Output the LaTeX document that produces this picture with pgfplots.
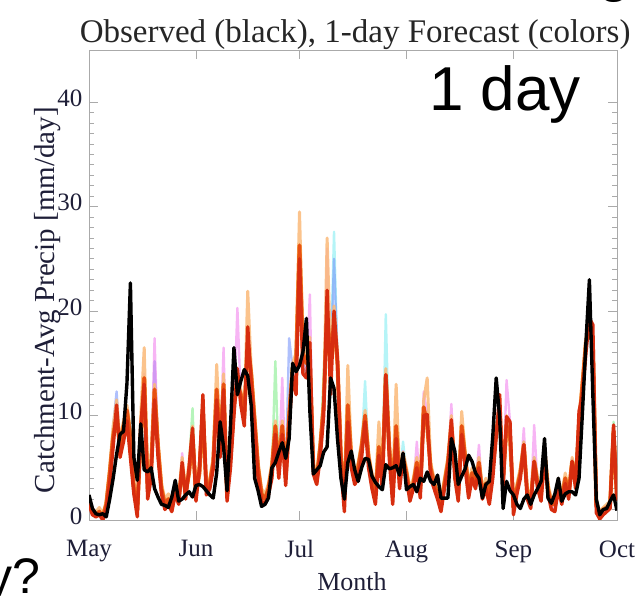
\documentclass[border=0pt]{standalone}
\usepackage{fontspec}
\setmainfont{Liberation Serif}
\newfontfamily\arial{Liberation Sans}
\usepackage{pgfplots}
\usepackage{pgfplotstable}
\pgfplotsset{compat=1.18}
\definecolor{cRed}{RGB}{215,45,15}
\definecolor{cOrR}{RGB}{232,80,20}
\definecolor{cOr}{RGB}{240,140,40}
\definecolor{cLOr}{RGB}{250,185,120}
\definecolor{cPink}{RGB}{240,120,235}
\definecolor{cBlue}{RGB}{110,140,250}
\definecolor{cGreen}{RGB}{120,235,130}
\definecolor{cCyan}{RGB}{120,235,240}
\definecolor{axgray}{RGB}{170,170,170}
\definecolor{txt}{RGB}{30,30,55}

\pgfplotstableread{
d obs r o l p b g c
0 2.4 1.5 1.8 2.0 1.6 1.9 1.4 1.7
1 1.1 0.5 0.8 1.0 0.6 0.9 0.5 0.7
2 0.6 0.3 0.5 0.8 0.4 0.6 0.3 0.5
3 0.5 0.5 0.8 1.2 0.6 0.9 0.5 0.7
4 0.6 0.0 0.3 0.6 0.2 0.4 0.1 0.3
5 0.3 1.0 1.5 1.8 1.2 1.6 1.0 1.4
6 2.0 3.5 4.5 5.0 4.0 4.8 3.8 4.2
7 4.0 7.0 8.0 9.0 7.5 9.0 7.2 8.0
8 6.3 11.0 10.0 11.5 11.0 12.3 10.5 10.8
9 8.2 6.0 7.0 7.5 6.5 7.0 6.2 6.8
10 8.5 7.5 9.0 9.5 8.0 8.5 7.8 8.6
11 13.1 9.5 10.5 11.0 10.0 10.5 9.8 10.2
12 22.7 6.0 8.0 8.5 7.0 7.5 6.5 7.8
13 6.0 2.5 3.0 3.5 2.8 3.0 2.5 3.0
14 3.8 0.3 1.0 1.5 0.8 1.0 0.5 1.0
15 9.2 9.0 8.0 10.0 9.5 9.0 8.5 8.8
16 4.8 13.0 13.6 16.5 14.0 13.0 12.5 13.0
17 4.6 2.0 3.0 3.5 2.5 2.8 2.2 3.0
18 5.0 4.0 5.0 5.5 4.5 5.0 4.2 4.8
19 3.0 11.5 12.5 13.0 17.4 15.2 12.0 12.5
20 2.2 6.0 7.0 7.5 6.5 7.0 6.2 6.8
21 1.5 2.5 3.0 3.5 2.8 3.0 2.6 3.0
22 1.4 1.0 1.5 2.0 1.2 1.5 1.0 1.4
23 1.2 1.5 2.0 2.5 1.8 2.0 1.6 2.0
24 2.2 0.8 1.5 2.0 1.2 1.4 1.0 1.5
25 3.8 2.5 3.0 3.5 2.8 3.0 2.6 3.0
26 1.8 1.5 2.0 2.5 1.8 2.0 1.6 2.0
27 2.0 5.5 5.0 6.0 6.4 5.5 5.8 5.4
28 2.4 2.0 2.5 3.0 2.2 2.5 2.0 2.4
29 2.7 5.0 4.5 5.5 5.0 4.8 5.2 4.8
30 2.2 8.8 8.0 9.0 8.5 8.5 10.7 8.6
31 3.3 1.8 2.5 3.0 2.0 2.4 2.0 2.4
32 3.4 5.0 4.5 5.5 5.0 4.8 5.0 4.8
33 3.2 12.0 10.5 11.5 11.0 10.8 11.5 10.8
34 2.8 2.4 3.0 3.5 2.6 3.0 2.6 3.0
35 2.4 3.0 3.5 4.0 3.2 3.4 3.0 3.4
36 2.1 4.9 5.5 6.0 5.2 5.4 5.0 5.4
37 4.5 11.5 12.5 14.9 12.0 12.0 11.8 12.2
38 9.4 6.0 7.0 7.5 6.5 7.0 6.2 7.0
39 7.0 12.5 13.0 14.0 16.5 13.0 13.0 13.2
40 2.8 1.8 2.5 3.0 2.0 2.5 2.0 2.5
41 9.0 5.0 6.0 6.5 5.5 6.0 5.2 6.0
42 16.5 10.0 11.0 11.5 10.5 11.0 10.2 11.0
43 12.0 14.5 13.0 14.0 20.3 14.0 14.5 13.5
44 13.3 11.0 12.0 12.5 11.5 12.0 11.2 12.0
45 14.4 9.0 10.0 10.5 9.5 10.0 9.2 10.0
46 13.8 18.5 17.0 21.9 18.0 18.0 18.2 17.5
47 11.0 13.0 14.0 14.5 13.5 14.0 13.2 14.0
48 4.0 8.8 9.5 10.0 9.0 9.5 9.0 9.5
49 2.8 4.0 5.0 5.5 4.5 5.0 4.2 5.0
50 1.3 1.8 2.5 3.0 2.0 2.5 2.0 2.5
51 1.5 1.5 2.0 2.5 1.8 2.0 1.6 2.0
52 2.1 2.4 3.0 3.5 2.6 3.0 2.6 3.0
53 5.0 4.0 5.0 5.5 4.5 5.0 4.5 5.0
54 5.5 8.2 9.0 9.5 8.5 9.0 15.2 9.0
55 6.5 4.0 5.0 5.5 4.5 5.0 4.5 5.0
56 7.4 8.2 9.0 9.5 13.6 9.0 8.8 9.0
57 5.9 3.3 4.0 4.5 3.6 4.0 3.5 4.0
58 7.8 9.0 10.0 10.5 9.5 17.4 9.5 10.0
59 15.0 13.9 14.5 15.0 14.2 14.5 14.0 14.5
60 14.2 12.0 15.0 16.0 13.0 14.0 12.5 14.5
61 14.8 25.0 26.3 29.5 25.5 26.0 25.5 26.0
62 16.1 14.0 16.0 17.0 15.0 15.5 14.5 15.5
63 19.3 13.6 15.0 16.0 14.0 15.0 14.0 14.5
64 10.4 17.0 15.0 17.5 21.6 16.0 17.0 16.0
65 4.4 4.4 5.0 5.5 4.6 5.0 4.5 5.0
66 4.8 3.4 4.0 4.5 3.6 4.0 3.5 4.0
67 5.2 6.0 7.0 7.5 6.5 7.0 6.2 7.0
68 6.5 10.0 11.0 11.5 10.5 11.0 14.0 11.0
69 7.0 22.0 20.0 27.0 26.0 21.0 21.0 20.5
70 13.6 12.0 15.0 16.0 13.0 14.0 12.5 14.5
71 12.6 20.0 19.0 20.5 20.0 25.0 20.0 27.6
72 7.8 15.5 15.0 16.0 15.0 15.5 15.2 15.5
73 4.0 5.0 6.0 6.5 5.5 6.0 5.2 6.0
74 2.0 0.8 2.0 2.5 1.2 1.8 1.0 1.8
75 5.5 9.4 11.0 14.8 10.0 10.5 9.8 10.5
76 6.6 5.0 6.0 6.5 5.5 6.0 5.2 6.0
77 4.8 3.4 4.0 4.5 3.6 4.0 3.5 4.0
78 3.7 4.0 5.0 5.5 4.5 5.0 4.2 5.0
79 5.0 6.0 7.0 7.5 6.5 7.0 6.2 7.0
80 5.9 9.4 10.0 10.5 9.8 10.0 9.6 13.3
81 5.8 5.0 6.0 6.5 5.5 6.0 5.2 6.0
82 4.2 3.0 4.0 4.5 3.5 4.0 3.2 4.0
83 3.6 1.5 2.5 3.0 2.0 2.5 1.8 2.5
84 3.2 6.2 7.0 9.4 6.5 7.0 6.4 7.0
85 2.9 3.0 4.0 4.5 3.5 4.0 3.2 4.0
86 5.3 13.9 13.9 14.5 14.0 14.0 14.0 19.7
87 4.9 6.0 7.0 7.5 6.5 7.0 6.2 7.0
88 5.0 1.5 2.5 3.0 2.0 2.5 1.8 2.5
89 5.2 7.8 9.0 13.0 8.5 9.0 8.0 9.0
90 4.3 3.0 4.0 4.5 3.5 4.0 3.2 4.0
91 6.4 5.9 6.0 6.5 6.6 6.2 6.0 7.5
92 2.9 4.0 4.5 5.0 4.2 4.5 4.0 4.5
93 3.2 1.8 2.5 3.0 2.0 2.5 1.8 2.5
94 3.4 3.0 3.5 4.0 3.2 3.5 3.0 3.5
95 2.7 5.0 5.5 6.0 7.5 5.5 5.2 5.5
96 4.0 2.1 3.0 3.5 2.5 3.0 2.2 3.0
97 3.7 10.0 10.8 11.5 12.3 10.8 10.2 10.8
98 4.6 10.1 9.0 13.6 10.0 9.5 10.0 9.5
99 3.7 4.0 5.0 5.5 4.5 5.0 4.2 5.0
100 3.4 3.0 3.5 4.0 3.2 3.5 3.0 3.5
101 4.3 2.0 2.5 3.0 2.2 2.5 2.0 2.5
102 2.1 0.8 1.5 2.0 1.0 1.5 0.9 1.5
103 2.1 3.0 3.5 4.0 3.2 3.5 3.0 3.5
104 2.1 5.0 5.5 6.0 5.2 5.5 5.0 5.5
105 7.8 9.6 9.0 10.0 11.1 9.5 9.6 9.5
106 6.6 4.0 5.0 5.5 4.5 5.0 4.2 5.0
107 3.4 1.8 2.5 3.0 2.0 2.5 1.8 2.5
108 4.2 8.2 9.0 10.4 8.5 9.0 8.4 9.0
109 4.9 5.0 6.0 6.5 5.5 6.0 5.2 6.0
110 6.2 2.1 3.0 3.5 2.5 3.0 2.2 3.0
111 5.6 4.0 4.5 5.0 4.2 4.5 4.0 4.5
112 4.5 3.0 3.5 4.0 3.2 3.5 3.0 3.5
113 4.0 5.0 5.5 6.0 7.2 5.5 5.2 5.5
114 2.1 2.0 2.5 3.0 2.2 2.5 2.0 2.5
115 3.4 3.0 3.5 4.0 3.2 3.5 3.0 3.5
116 3.7 1.5 2.5 3.0 2.0 2.5 1.8 2.5
117 8.0 4.0 5.0 5.5 4.5 5.0 4.2 5.0
118 13.6 8.0 8.5 9.0 8.2 8.5 8.0 8.5
119 9.8 12.0 10.0 11.0 11.0 10.5 11.5 10.5
120 1.1 3.0 4.0 4.5 3.5 4.0 3.2 4.0
121 3.7 9.9 9.0 10.0 13.4 9.5 9.6 9.5
122 2.8 9.4 8.0 9.0 9.4 8.5 9.0 8.5
123 2.4 0.5 1.2 1.5 0.8 1.0 0.6 1.0
124 1.5 2.5 3.0 3.5 2.8 3.0 2.6 3.0
125 1.1 4.0 4.5 5.0 4.2 4.5 4.0 4.5
126 2.0 7.2 7.2 7.5 8.8 7.5 7.2 7.5
127 2.4 2.0 2.5 3.0 2.2 2.5 2.0 2.5
128 1.5 1.1 1.8 2.2 1.4 1.8 1.2 1.8
129 2.4 5.6 5.6 6.0 9.1 6.0 5.8 6.0
130 3.0 3.0 3.5 4.0 3.2 3.5 3.0 3.5
131 3.7 1.8 2.5 3.0 2.0 2.5 1.8 2.5
132 7.8 6.0 6.5 7.0 6.2 6.5 6.0 6.5
133 2.1 2.5 3.0 3.5 2.8 3.0 2.6 3.0
134 1.6 1.0 1.5 2.0 1.2 1.5 1.0 1.5
135 2.5 0.8 1.5 2.0 1.0 1.5 0.9 1.5
136 4.0 3.0 3.5 4.0 3.2 3.5 3.0 3.5
137 1.8 1.5 2.0 2.5 1.8 2.0 1.6 2.0
138 2.5 3.5 4.0 4.5 3.8 4.0 3.6 4.0
139 2.7 2.0 2.5 3.0 2.2 2.5 2.0 2.5
140 2.7 5.6 5.6 6.0 5.8 5.8 5.6 5.8
141 2.4 3.0 3.5 4.0 3.2 3.5 3.0 3.5
142 4.0 10.4 9.0 10.0 10.0 9.5 10.0 9.5
143 10.4 12.0 13.0 13.5 12.5 13.0 12.2 13.0
144 17.0 16.0 17.0 17.5 16.5 17.0 16.2 17.0
145 23.0 19.3 18.0 18.5 18.5 18.0 19.0 18.0
146 12.0 18.7 17.0 17.5 17.5 17.0 18.0 17.0
147 2.0 0.7 1.5 2.0 1.0 1.5 0.8 1.5
148 0.5 0.1 0.5 0.8 0.3 0.5 0.2 0.5
149 1.0 0.5 1.0 1.2 0.7 1.0 0.6 1.0
150 1.1 0.8 1.2 1.5 1.0 1.2 0.9 1.2
151 1.8 1.1 1.5 1.8 1.3 1.5 1.2 1.5
152 2.4 9.1 8.5 9.0 8.8 8.5 9.4 8.5
153 0.9 1.8 2.0 2.5 1.9 2.0 1.8 2.0
}\data

\begin{document}
\begin{tikzpicture}
\useasboundingbox (0,0) rectangle (635pt,596pt);
\begin{axis}[
  at={(89pt,76pt)}, anchor=south west,
  scale only axis, width=528pt, height=470pt,
  xmin=0, xmax=153, ymin=0, ymax=45,
  xtick={0,31,61,92,123,153},
  xticklabels={May,Jun,Jul,Aug,Sep,Oct},
  ytick={0,10,20,30,40}, minor y tick num=9,
  axis line style={axgray, line width=0.8pt},
  every tick/.style={axgray, line width=0.8pt},
  major tick length=9pt, minor tick length=5pt,
  tick label style={font=\fontsize{25}{28}\selectfont, text=txt},
  xticklabel style={yshift=-17pt},
  yticklabel style={xshift=-3pt, yshift=4pt},
  /pgf/number format/assume math mode=true,
  title={Observed (black), 1-day Forecast (colors)},
  title style={at={(axis description cs:0.504,1.021)}, anchor=center,
    font=\fontsize{33}{35}\selectfont, text=black!85},
  xlabel={Month},
  xlabel style={at={(axis description cs:0.498,-0.132)}, anchor=center,
    font=\fontsize{26}{28}\selectfont, text=txt},
  ylabel={Catchment-Avg Precip [mm/day]},
  ylabel style={at={(axis description cs:-0.078,0.468)}, anchor=center,
    font=\fontsize{29}{31}\selectfont, text=txt},
  every axis plot/.append style={line join=round},
]
\addplot[cCyan, opacity=0.55, line width=2.4pt] table[x=d,y=c]{\data};
\addplot[cGreen, opacity=0.55, line width=2.4pt] table[x=d,y=g]{\data};
\addplot[cBlue, opacity=0.55, line width=2.4pt] table[x=d,y=b]{\data};
\addplot[cPink, opacity=0.55, line width=2.4pt] table[x=d,y=p]{\data};
\addplot[cLOr, opacity=0.85, line width=3pt] table[x=d,y=l]{\data};
\addplot[cOr, line width=4pt] table[x=d,y=o]{\data};
\addplot[cOrR, line width=3.4pt] table[x=d,y=o]{\data};
\addplot[cRed, line width=3.4pt] table[x=d,y=r]{\data};
\addplot[black, line width=3.4pt] table[x=d,y=obs]{\data};
\end{axis}
\node[font=\arial\fontsize{62}{64}\selectfont, text=black] at (505pt,502pt) {1 day};
\node[font=\arial\fontsize{58}{60}\selectfont, text=black, anchor=base] at (615pt,605pt) {g};
\node[font=\arial\fontsize{50}{52}\selectfont, text=black, anchor=base east] at (44pt,2pt) {y?};
\end{tikzpicture}
\end{document}
